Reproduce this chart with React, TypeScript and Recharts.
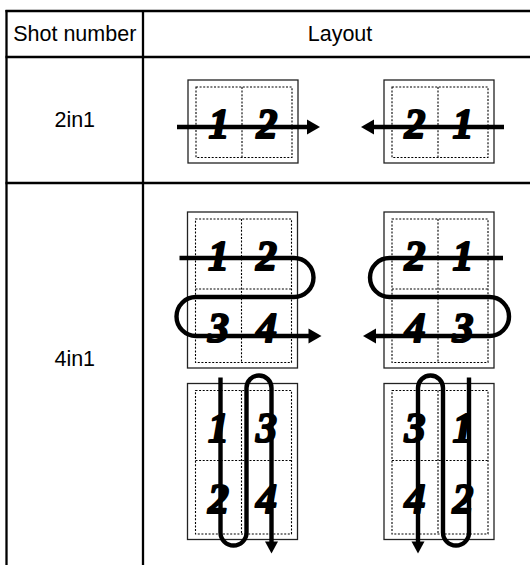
import { ReferenceLine, Scatter, ScatterChart, XAxis, YAxis } from "recharts";

const headers = ["Shot number", "Layout"];
const shotNumbers = ["2in1", "4in1"];

// one entry per sheet drawing, left to right, top to bottom
const sheetShot = ["2in1", "2in1", "4in1", "4in1", "4in1", "4in1"];
const sheetPages = [
  [["1", "2"]],
  [["2", "1"]],
  [["1", "2"], ["3", "4"]],
  [["2", "1"], ["4", "3"]],
  [["1", "3"], ["2", "4"]],
  [["3", "1"], ["4", "2"]],
];
const sheetFlow = ["right", "left", "zRight", "zLeft", "nDown", "nDownRev"];

// layout, in chart units (1 unit = 1px)
const W = 530;
const H = 565;
const colEdges = [6.5, 143, 537];
const rowEdges = [11, 57, 183, 600];
const rowLabelY = [120, 359];
const sheetX = [243, 439, 242.5, 439, 242.5, 439];
const sheetY = [121.5, 121.5, 290, 290, 461.5, 461.5];

const FONT = '"Liberation Sans", Arial, Helvetica, sans-serif';
const DIGIT_FONT = '"Liberation Serif", "Times New Roman", serif';

const cellLabels = [
  ...headers.map((text, i) => ({
    x: (colEdges[i] + colEdges[i + 1]) / 2,
    y: (rowEdges[0] + rowEdges[1]) / 2,
    text,
  })),
  ...shotNumbers.map((text, i) => ({
    x: (colEdges[0] + colEdges[1]) / 2,
    y: rowLabelY[i],
    text,
  })),
];

const sheets = sheetShot.map((shot, i) => ({
  shot,
  x: sheetX[i],
  y: sheetY[i],
  pages: sheetPages[i],
  flow: sheetFlow[i],
}));

type Flow = { d: string; head: number[][] };

function flowPath(flow: string, L: number, T: number, R: number, B: number, cy: number): Flow {
  if (flow === "right" || flow === "left") {
    const y = cy + 5.5;
    if (flow === "right")
      return { d: `M${L - 11},${y} H${R + 11}`, head: [[R + 22, y], [R + 9, y - 7.5], [R + 9, y + 7.5]] };
    return { d: `M${R + 10},${y} H${L - 12}`, head: [[L - 23, y], [L - 10, y - 7.5], [L - 10, y + 7.5]] };
  }
  if (flow === "zRight" || flow === "zLeft") {
    const y1 = T + 46;
    const y2 = T + 85;
    const y3 = T + 124;
    const r = (y2 - y1) / 2;
    if (flow === "zRight") {
      const xr = R + 16;
      const xl = L - 11;
      return {
        d: `M${L - 8},${y1} H${xr - r} A${r},${r} 0 0 1 ${xr - r},${y2} H${xl + r} A${r},${r} 0 0 0 ${xl + r},${y3} H${R + 13}`,
        head: [[R + 24, y3], [R + 11, y3 - 7.5], [R + 11, y3 + 7.5]],
      };
    }
    const xl = L - 14;
    const xr = R + 15;
    return {
      d: `M${R + 9},${y1} H${xl + r} A${r},${r} 0 0 0 ${xl + r},${y2} H${xr - r} A${r},${r} 0 0 1 ${xr - r},${y3} H${L - 10}`,
      head: [[L - 21, y3], [L - 8, y3 - 7.5], [L - 8, y3 + 7.5]],
    };
  }
  const rev = flow === "nDownRev";
  const x1 = rev ? L + 85 : L + 33;
  const x2 = L + 59;
  const x3 = rev ? L + 34 : L + 84;
  const r1 = Math.abs(x2 - x1) / 2;
  const r2 = Math.abs(x3 - x2) / 2;
  const yb = B + 6;
  const yt = T - 8;
  const s1 = rev ? 1 : 0;
  const s2 = rev ? 0 : 1;
  return {
    d: `M${x1},${T - 6} V${yb - r1} A${r1},${r1} 0 0 ${s1} ${x2},${yb - r1} V${yt + r2} A${r2},${r2} 0 0 ${s2} ${x3},${yt + r2} V${B + 3}`,
    head: [[x3, B + 14], [x3 - 6.5, B + 2], [x3 + 6.5, B + 2]],
  };
}

function SheetShape(props: any) {
  const { cx, cy, payload } = props;
  const portrait = payload.pages.length > 1;
  const w = 110;
  const h = portrait ? 156 : 83;
  const L = cx - w / 2;
  const R = cx + w / 2;
  const T = cy - h / 2;
  const B = cy + h / 2;
  const xs = [L + 8, L + 54, R - 6];
  const ys = portrait ? [T + 7, T + 77, B - 5.5] : [T + 7, B - 5.5];
  const flow = flowPath(payload.flow, L, T, R, B, cy);
  const dots = { stroke: "#000", strokeWidth: 1.1, strokeDasharray: "2 1.6", fill: "none" };
  return (
    <g>
      <rect x={L} y={T} width={w} height={h} fill="none" stroke="#222" strokeWidth={1.3} />
      <rect x={xs[0]} y={ys[0]} width={xs[2] - xs[0]} height={ys[ys.length - 1] - ys[0]} {...dots} />
      <line x1={xs[1]} y1={ys[0]} x2={xs[1]} y2={ys[ys.length - 1]} {...dots} />
      {portrait && <line x1={xs[0]} y1={ys[1]} x2={xs[2]} y2={ys[1]} {...dots} />}
      {payload.pages.map((row: string[], ri: number) =>
        row.map((p: string, ci: number) => (
          <text
            key={`${ri}-${ci}`}
            x={(xs[ci] + xs[ci + 1]) / 2}
            y={(ys[ri] + ys[ri + 1]) / 2 + 2}
            textAnchor="middle"
            dominantBaseline="central"
            fontFamily={DIGIT_FONT}
            fontStyle="italic"
            fontWeight="bold"
            fontSize={42}
            fill="#000"
            stroke="#000"
            strokeWidth={2}
            strokeLinejoin="round"
          >
            {p}
          </text>
        ))
      )}
      <path d={flow.d} fill="none" stroke="#000" strokeWidth={4.4} />
      <polygon points={flow.head.map((q) => q.join(",")).join(" ")} fill="#000" />
    </g>
  );
}

function LabelShape(props: any) {
  const { cx, cy, payload } = props;
  return (
    <text x={cx} y={cy} textAnchor="middle" dominantBaseline="central" fontFamily={FONT} fontSize={21.5} fill="#000">
      {payload.text}
    </text>
  );
}

const line = { stroke: "#000", strokeWidth: 2.3, ifOverflow: "visible" as const };

export default function App() {
  return (
    <div style={{ position: "absolute", left: 0, top: 0, width: W, height: H, background: "#fff" }}>
      <ScatterChart width={W} height={H} margin={{ top: 0, right: 0, bottom: 0, left: 0 }}>
        <XAxis type="number" dataKey="x" domain={[0, W]} allowDataOverflow hide />
        <YAxis type="number" dataKey="y" domain={[0, H]} allowDataOverflow reversed hide />
        {rowEdges.slice(0, 3).map((y) => (
          <ReferenceLine key={`h${y}`} segment={[{ x: colEdges[0] - 1, y }, { x: W, y }]} {...line} />
        ))}
        {colEdges.slice(0, 2).map((x) => (
          <ReferenceLine key={`v${x}`} segment={[{ x, y: rowEdges[0] - 1 }, { x, y: H }]} {...line} />
        ))}
        <Scatter data={cellLabels} shape={LabelShape} isAnimationActive={false} />
        <Scatter data={sheets} shape={SheetShape} isAnimationActive={false} />
      </ScatterChart>
    </div>
  );
}
